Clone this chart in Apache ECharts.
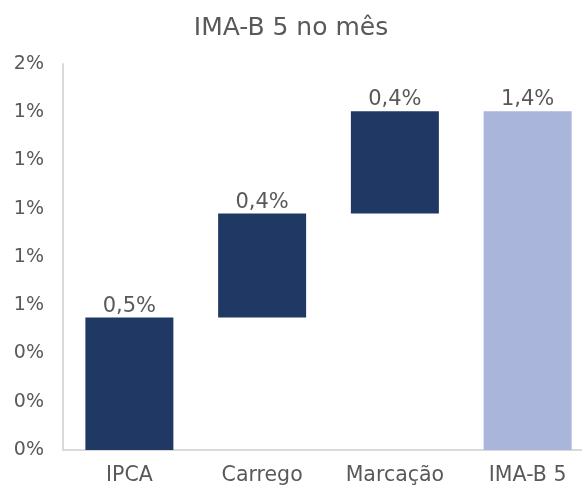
<!DOCTYPE html>
<html><head><meta charset="utf-8">
<script src="https://cdn.jsdelivr.net/npm/echarts@6/dist/echarts.min.js"></script>
<style>html,body{margin:0;padding:0;background:#fff}#c{width:582px;height:488px}</style>
</head><body><div id="c"></div>
<script>
const categories = ['IPCA', 'Carrego', 'Marcação', 'IMA-B 5'];
const values = [0.549, 0.431, 0.424, 1.404];
const isTotal = [false, false, false, true];
const yTicks = { min: 0, max: 1.6, step: 0.2 };

const base = [];
let run = 0;
values.forEach((v, i) => {
  if (isTotal[i]) { base.push(0); }
  else { base.push(run); run += v; }
});
const fmt = v => v.toFixed(1).replace('.', ',') + '%';
const textColor = '#595959';
const font = 'DejaVu Sans';

const chart = echarts.init(document.getElementById('c'));
chart.setOption({
  animation: false,
  title: { text: 'IMA-B 5 no mês', left: 'center', top: 11,
    textStyle: { fontFamily: font, fontSize: 25, fontWeight: 'normal', color: textColor } },
  grid: { left: 63, width: 531, top: 64, bottom: 38, containLabel: false, outerBoundsMode: 'none' },
  xAxis: { type: 'category', data: categories,
    axisLine: { lineStyle: { color: '#d9d9d9', width: 2 } }, axisTick: { show: false },
    axisLabel: { color: textColor, fontFamily: font, fontSize: 20.5, margin: 15 } },
  yAxis: { type: 'value', min: yTicks.min, max: yTicks.max, interval: yTicks.step,
    axisLine: { show: true, lineStyle: { color: '#d9d9d9', width: 2 } }, axisTick: { show: false },
    splitLine: { show: false },
    axisLabel: { color: textColor, fontFamily: font, fontSize: 19, margin: 19,
      formatter: v => Math.round(v) + '%' } },
  series: [
    { type: 'bar', stack: 'w', data: base, barWidth: 88, silent: true,
      itemStyle: { color: 'transparent' } },
    { type: 'bar', stack: 'w', barWidth: 88,
      data: values.map((v, i) => ({ value: v, itemStyle: { color: isTotal[i] ? '#a9b5da' : '#203864' } })),
      label: { show: true, position: 'top', distance: 1, color: textColor, fontFamily: font, fontSize: 21,
        formatter: p => fmt(p.value) } }
  ]
});
</script></body></html>
